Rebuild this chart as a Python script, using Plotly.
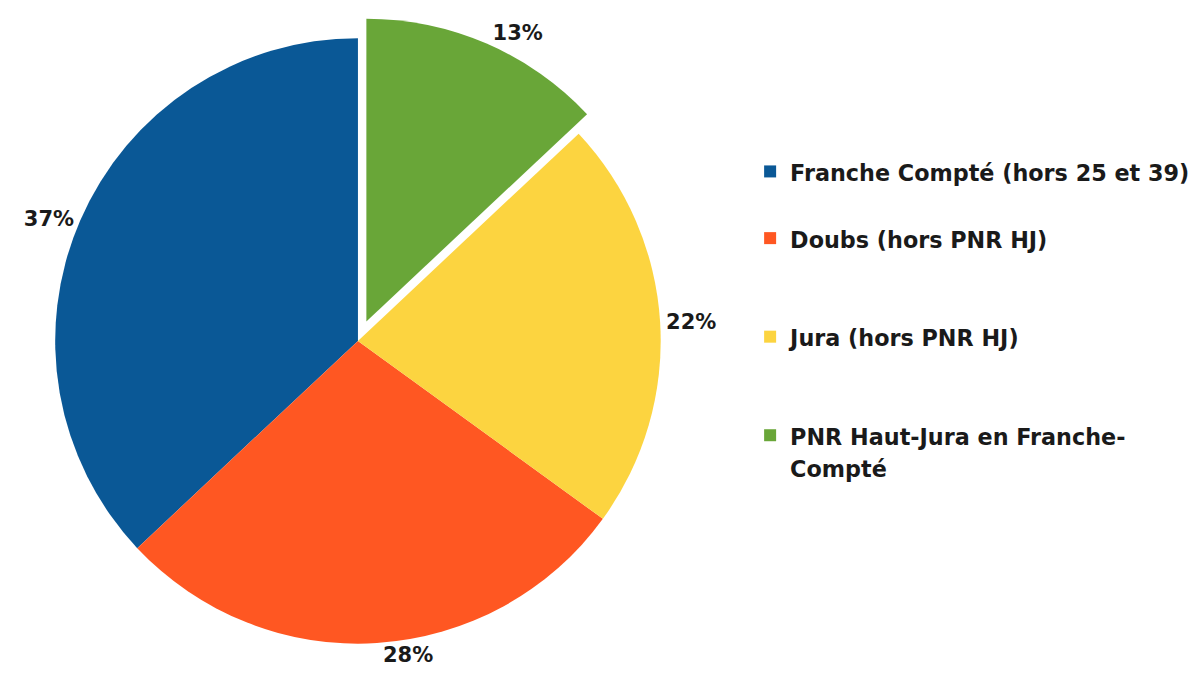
import plotly.graph_objects as go

labels = ["Franche Compté (hors 25 et 39)", "Doubs (hors PNR HJ)", "Jura (hors PNR HJ)",
          "PNR Haut-Jura en Franche-<br>Compté"]
values = [37, 28, 22, 13]
colors = ["#0A5896", "#FF5722", "#FCD440", "#69A638"]
pulls = [0, 0, 0, 0.07]
# trailing blank lines used only to space the legend entries like the reference
legend_pad = [1, 2, 2, 0]

display_labels = ['<span style="font-size:22.3px">' + l + "</span>" + "<br> " * n
                  for l, n in zip(labels, legend_pad)]

# plotly's counterclockwise mode ends the first slice at `rotation`; offset so it starts at 12 o'clock
start_rotation = -values[0] / sum(values) * 360

FONT = "DejaVu Sans, Liberation Sans, Arial, sans-serif"

fig = go.Figure(go.Pie(
    labels=display_labels,
    values=values,
    marker=dict(colors=colors, line=dict(width=0)),
    pull=pulls,
    sort=False,
    direction="counterclockwise",
    rotation=start_rotation,
    texttemplate="%{value}%",
    textposition="outside",
    textfont=dict(family=FONT, size=21, color="#1a1a1a", weight="bold"),
    domain=dict(x=[0.0217, 0.5635], y=[0.0298, 0.9868]),
    hoverinfo="value+percent",
))

fig.update_layout(
    width=1196, height=677,
    margin=dict(l=0, r=0, t=0, b=0, autoexpand=False),
    paper_bgcolor="white",
    plot_bgcolor="white",
    font=dict(family=FONT, size=20, color="#1a1a1a"),
    legend=dict(
        x=0.6205, y=(677 - 141) / 677, xanchor="left", yanchor="top",
        font=dict(family=FONT, size=24.5, color="#1a1a1a", weight="bold"),
        valign="top",
        itemwidth=30,
        bgcolor="rgba(0,0,0,0)",
    ),
    showlegend=True,
)

fig.write_html("out.html")
